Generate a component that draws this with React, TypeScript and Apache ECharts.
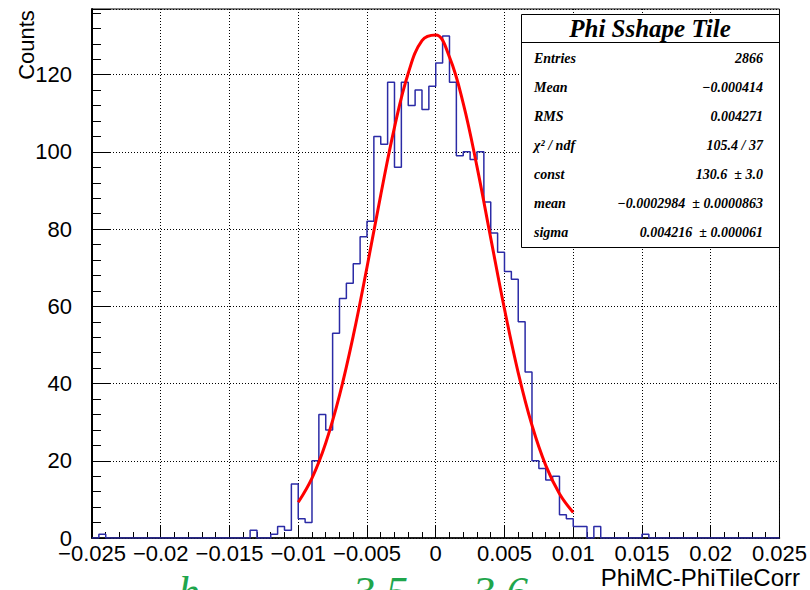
import { useEffect, useRef } from "react";
import * as echarts from "echarts";

// Histogram binning (100 bins from -0.025 to 0.025)
const binLow = -0.025;
const binWidth = 0.0005;
const binCounts = [
  0, 1, 0, 0, 0, 0, 0, 0, 0, 0,
  0, 0, 0, 0, 0, 0, 0, 0, 0, 0,
  0, 0, 0, 2, 0, 0, 1, 3, 2, 14,
  5, 4, 20, 32, 28, 53, 62, 66, 71, 78,
  82, 104, 102, 118, 96, 118, 112, 116, 111, 117,
  123, 130, 118, 99, 100, 98, 100, 87, 79, 74,
  69, 67, 56, 43, 20, 18, 15, 16, 6, 5,
  3, 3, 0, 3, 0, 0, 0, 0, 0, 0,
  1, 0, 0, 0, 0, 0, 0, 0, 0, 0,
  0, 0, 0, 0, 0, 0, 0, 0, 0, 0,
];

const fitX = [
  -0.01, -0.009, -0.008, -0.007, -0.006, -0.005, -0.004, -0.003, -0.002, -0.001, 0,
  0.001, 0.002, 0.003, 0.004, 0.005, 0.006, 0.007, 0.008, 0.009, 0.01,
];
const fitY = [
  9.25, 15.52, 24.62, 36.92, 52.33, 70.13, 88.83, 106.36, 120.38, 128.8, 130.27,
  124.55, 112.57, 96.17, 77.67, 59.29, 42.78, 29.19, 18.82, 11.47, 6.61,
];

const xMin = -0.025;
const xMax = 0.025;
const xStep = 0.005;
const yMin = 0;
const yMax = 137;
const yStep = 20;
const yMinorStep = 4;

const statsTitle = "Phi Sshape Tile";
const statLabels = ["Entries", "Mean", "RMS", "\u03c7\u00b2 / ndf", "const", "mean", "sigma"];
const statValues = [
  "2866",
  "\u22120.000414",
  "0.004271",
  "105.4 / 37",
  "130.6  \u00b1 3.0",
  "\u22120.0002984  \u00b1 0.0000863",
  "0.004216  \u00b1 0.000061",
];

const xTitle = "PhiMC-PhiTileCorr";
const yTitle = "Counts";

export default function App() {
  const ref = useRef<HTMLDivElement>(null);

  useEffect(() => {
    if (!ref.current) return;
    const chart = echarts.init(ref.current, null, { renderer: "svg" });

    const histPts: number[][] = [];
    binCounts.forEach((c, i) => {
      const x0 = binLow + i * binWidth;
      histPts.push([x0, c]);
      histPts.push([x0 + binWidth, c]);
    });
    const fitPts = fitX.map((x, i) => [x, fitY[i]]);

    const sans = "Liberation Sans";
    const serif = "Liberation Serif";

    const fmtX = (v: number) => {
      const r = parseFloat(v.toFixed(4));
      if (r === 0) return "0";
      return String(r).replace("-", "\u2212");
    };

    const statsLeft = 521;
    const statsTop = 14;
    const statsW = 258;
    const statsH = 233;
    const rowY0 = 58;
    const rowDy = 29;
    const statFont = `italic bold 14px "${serif}"`;

    const graphics: any[] = [
      {
        type: "text",
        x: 26,
        y: 45,
        rotation: Math.PI / 2,
        style: {
          text: yTitle,
          font: `22px "${sans}"`,
          fill: "#000",
          align: "center",
          verticalAlign: "middle",
        },
      },
      {
        type: "text",
        x: 800,
        y: 577,
        style: {
          text: xTitle,
          font: `24px "${sans}"`,
          fill: "#000",
          align: "right",
          verticalAlign: "middle",
        },
      },
      {
        type: "rect",
        z: 100,
        shape: { x: statsLeft + 0.5, y: statsTop + 0.5, width: statsW, height: statsH },
        style: { fill: "#fff", stroke: "#000", lineWidth: 1 },
      },
      {
        type: "line",
        z: 101,
        shape: { x1: statsLeft, y1: 42.5, x2: statsLeft + statsW, y2: 42.5 },
        style: { stroke: "#000", lineWidth: 1 },
      },
      {
        type: "text",
        z: 101,
        x: statsLeft + statsW / 2,
        y: 28,
        style: {
          text: statsTitle,
          font: `italic bold 25px "${serif}"`,
          fill: "#000",
          align: "center",
          verticalAlign: "middle",
        },
      },
    ];

    statLabels.forEach((lab, i) => {
      graphics.push({
        type: "text",
        z: 101,
        x: 534,
        y: rowY0 + i * rowDy,
        style: {
          text: lab,
          font: statFont,
          fill: "#000",
          align: "left",
          verticalAlign: "middle",
        },
      });
      graphics.push({
        type: "text",
        z: 101,
        x: 763,
        y: rowY0 + i * rowDy,
        style: {
          text: statValues[i],
          font: statFont,
          fill: "#000",
          align: "right",
          verticalAlign: "middle",
        },
      });
    });

    const greenFont = `italic 44px "${serif}"`;
    [
      { t: "h", x: 178 },
      { t: "3.5", x: 353 },
      { t: "3.6", x: 473 },
    ].forEach((g) => {
      graphics.push({
        type: "text",
        x: g.x,
        y: 570,
        style: { text: g.t, font: greenFont, fill: "#1fa64c", align: "left", verticalAlign: "top" },
      });
    });

    chart.setOption({
      animation: false,
      backgroundColor: "#fff",
      grid: {
        left: 92,
        right: 28,
        top: 9,
        bottom: 52,
        show: true,
        borderColor: "#000",
        borderWidth: 1,
        backgroundColor: "transparent",
      },
      xAxis: {
        type: "value",
        min: xMin,
        max: xMax,
        interval: xStep,
        axisLine: { show: true, onZero: false, lineStyle: { color: "#000", width: 1.5 } },
        axisTick: { show: true, inside: true, length: 13, lineStyle: { color: "#000" } },
        minorTick: { show: true, splitNumber: 5, length: 6, lineStyle: { color: "#000" } },
        axisLabel: {
          formatter: fmtX,
          color: "#000",
          fontFamily: sans,
          fontSize: 22,
          margin: 4,
          showMaxLabel: true,
          showMinLabel: true,
        },
        splitLine: { show: true, lineStyle: { color: "#000", type: [1, 2], width: 1 } },
      },
      yAxis: [
        {
          type: "value",
          min: yMin,
          max: yMax,
          interval: yStep,
          axisLine: { show: true, onZero: false, lineStyle: { color: "#000", width: 2 } },
          axisTick: { show: true, inside: true, length: 18, lineStyle: { color: "#000" } },
          axisLabel: {
            formatter: (v: number) => (v % yStep === 0 ? String(v) : ""),
            color: "#000",
            fontFamily: sans,
            fontSize: 22,
            margin: 20,
          },
          splitLine: { show: true, lineStyle: { color: "#000", type: [1, 2], width: 1 } },
        },
        {
          type: "value",
          position: "left",
          min: yMin,
          max: yMax,
          interval: yMinorStep,
          axisLine: { show: false, onZero: false },
          axisTick: { show: true, inside: true, length: 9, lineStyle: { color: "#000" } },
          axisLabel: { show: false },
          splitLine: { show: false },
        },
      ],
      series: [
        {
          type: "line",
          data: histPts,
          yAxisIndex: 0,
          showSymbol: false,
          symbol: "none",
          lineStyle: { color: "#2b2ba6", width: 1.5 },
          z: 3,
        },
        {
          type: "line",
          data: fitPts,
          yAxisIndex: 0,
          smooth: 0.4,
          showSymbol: false,
          symbol: "none",
          lineStyle: { color: "#ff0000", width: 3 },
          z: 4,
        },
      ],
      graphic: graphics,
    });

    return () => chart.dispose();
  }, []);

  return (
    <div
      ref={ref}
      style={{ position: "fixed", left: 0, top: 0, width: 810, height: 590 }}
    />
  );
}
